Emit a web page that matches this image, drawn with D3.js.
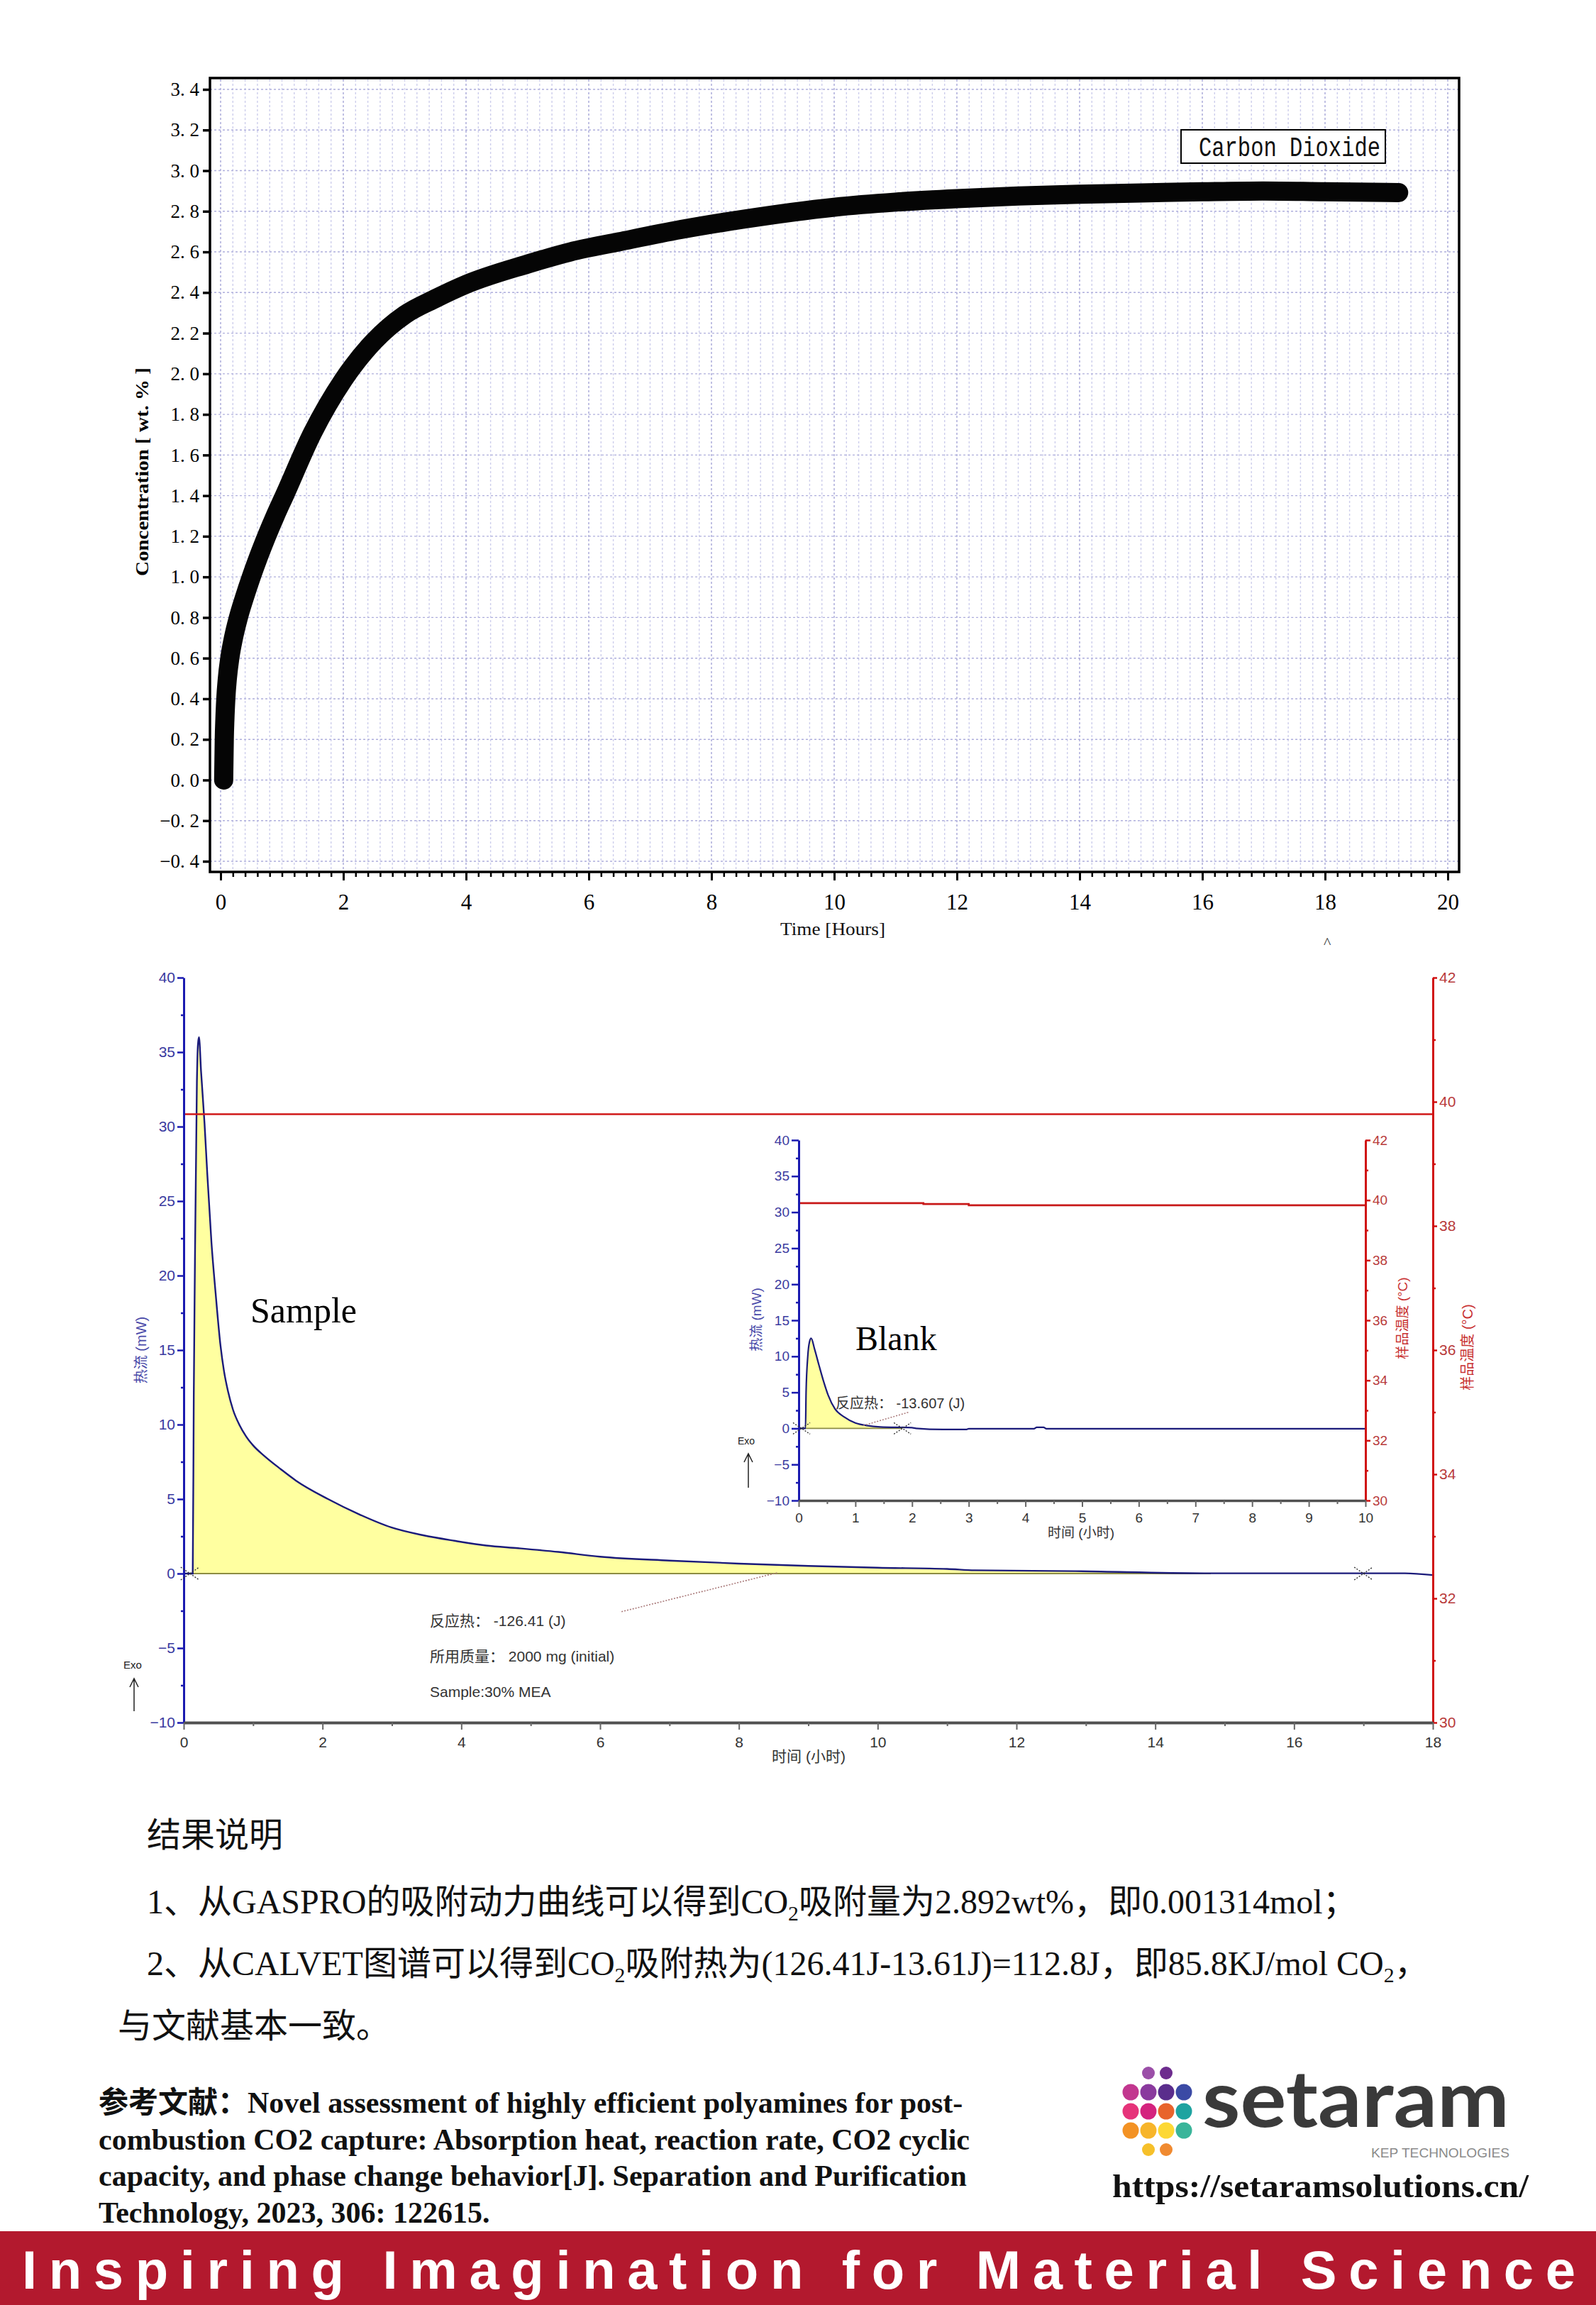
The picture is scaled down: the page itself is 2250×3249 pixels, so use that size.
<!DOCTYPE html>
<html>
<head>
<meta charset="utf-8">
<script src="https://cdn.jsdelivr.net/npm/d3@7/dist/d3.min.js"></script>
<style>
html,body{margin:0;padding:0;background:#fff;}
svg{display:block;}
</style>
</head>
<body>
<svg id="page" width="2250" height="3249" xmlns="http://www.w3.org/2000/svg"></svg>
<script>
// ================= DATA =================
// GASPRO CO2 uptake curve
const co2Time = [0.05,0.055,0.06,0.07,0.085,0.11,0.15,0.21,0.29,0.39,0.5,0.62,0.75,0.89,1.04,1.5,2.0,2.5,3.0,3.5,4.0,5.0,5.7,6.5,7.5,8.5,10,11,12,13,14,15,16,17,18,19.2];
const co2Conc = [0,0.1,0.2,0.3,0.4,0.5,0.6,0.7,0.8,0.9,1.0,1.1,1.2,1.3,1.4,1.71,1.97,2.16,2.29,2.37,2.44,2.54,2.6,2.65,2.71,2.76,2.82,2.845,2.862,2.875,2.884,2.89,2.896,2.9,2.896,2.892];
const co2YTicks = [-0.4,-0.2,0,0.2,0.4,0.6,0.8,1.0,1.2,1.4,1.6,1.8,2.0,2.2,2.4,2.6,2.8,3.0,3.2,3.4];
const co2XTicks = [0,2,4,6,8,10,12,14,16,18,20];
const co2Legend = "Carbon Dioxide";

// CALVET sample heat flow (mW) vs time (h)
const sampleTime = [0,0.13,0.145,0.16,0.19,0.205,0.22,0.25,0.3,0.34,0.4,0.46,0.53,0.58,0.64,0.71,0.8,0.9,1.0,1.16,1.4,1.62,2.08,2.53,2.99,3.45,3.9,4.36,4.82,5.4,6.0,7.0,8.0,9.0,10.0,11.0,11.4,12.85,14.7,17.6,18.0];
const sampleHeat = [0,0,12,20,33,35.5,36,33.7,30.2,26.8,22.2,18.8,15.3,13.6,12.2,11.0,10.0,9.2,8.6,7.9,7.0,6.23,5.0,3.97,3.1,2.57,2.2,1.88,1.7,1.45,1.13,0.87,0.67,0.51,0.39,0.31,0.22,0.16,0.02,0.02,-0.1];
const sampleTempTime = [0,18];
const sampleTemp = [39.8,39.8];
const sampleIntegration = [0.09,17.0];
const sampleLeader = [[8.55,0.05],[6.3,-2.57]];
const sampleNotes = ["反应热： -126.41 (J)","所用质量： 2000 mg (initial)","Sample:30% MEA"];

// CALVET blank (inset)
const blankTime = [0,0.12,0.13,0.16,0.19,0.22,0.28,0.36,0.44,0.52,0.64,0.8,1.0,1.2,1.44,2.0,2.07,2.55,2.95,3.0,4.15,4.2,4.32,4.37,10];
const blankHeat = [0,0,5,10,12,12.5,11,8.7,6.5,4.6,2.7,1.6,0.75,0.4,0.2,0.1,0,-0.15,-0.15,-0.05,-0.05,0.15,0.15,-0.05,-0.05];
const blankTempTime = [0,2.2,3.0,10];
const blankTemp = [39.9,39.87,39.83,39.83];
const blankIntegration = [0.05,1.83];
const blankLeader = [[1.14,0.4],[1.95,2.27]];
const blankNote = "反应热： -13.607 (J)";

const heatTicks = [-10,-5,0,5,10,15,20,25,30,35,40];
const heatMinor = [-7.5,-2.5,2.5,7.5,12.5,17.5,22.5,27.5,32.5,37.5];
const tempTicks = [30,32,34,36,38,40,42];
const tempMinor = [31,33,35,37,39,41];
const mainTimeTicks = [0,2,4,6,8,10,12,14,16,18];
const mainTimeMinor = [1,3,5,7,9,11,13,15,17];
const insetTimeTicks = [0,1,2,3,4,5,6,7,8,9,10];
const insetTimeMinor = [0.5,1.5,2.5,3.5,4.5,5.5,6.5,7.5,8.5,9.5];

const logoDots = [
  {c:1,r:0,col:'#9b4fa8'},{c:2,r:0,col:'#6d2c8e'},
  {c:0,r:1,col:'#c2378f'},{c:1,r:1,col:'#8a3a9e'},{c:2,r:1,col:'#5a2d8c'},{c:3,r:1,col:'#3b4aa5'},
  {c:0,r:2,col:'#e6337a'},{c:1,r:2,col:'#d4237e'},{c:2,r:2,col:'#e8642c'},{c:3,r:2,col:'#1ea3a0'},
  {c:0,r:3,col:'#f39224'},{c:1,r:3,col:'#f7b52a'},{c:2,r:3,col:'#fdd835'},{c:3,r:3,col:'#3ab59a'},
  {c:1,r:4,col:'#f6c02a'},{c:2,r:4,col:'#f08a30'}
];

// ================= DRAW =================
const svg = d3.select('#page');
const FS = "'Liberation Sans','Noto Sans CJK SC',sans-serif";
const FSerif = "'Liberation Serif','Noto Sans CJK SC',serif";
const FMono = "'Liberation Mono',monospace";

function vtext(x, y, str, size, color, family, weight, len) {
  const t = svg.append('text').attr('transform', `translate(${x},${y}) rotate(-90)`)
    .attr('text-anchor', 'middle').attr('font-size', size).attr('fill', color)
    .attr('font-family', family).attr('font-weight', weight || 'normal').text(str);
  if (len) t.attr('textLength', len).attr('lengthAdjust', 'spacingAndGlyphs');
  return t;
}
function styleAxis(g, o) {
  g.selectAll('.domain').attr('stroke', o.domain || 'none').attr('stroke-width', o.dw || 1);
  g.selectAll('.tick line').attr('stroke', o.tick).attr('stroke-width', o.tw || 2);
  g.selectAll('.tick text').attr('font-family', o.family).attr('font-size', o.size).attr('fill', o.text);
}
function drawX(cx, cy, hw, hh) {
  const g = svg.append('g').attr('stroke', '#333').attr('stroke-width', 1.4).attr('stroke-dasharray', '2,2');
  g.append('line').attr('x1', cx - hw).attr('y1', cy - hh).attr('x2', cx + hw).attr('y2', cy + hh);
  g.append('line').attr('x1', cx - hw).attr('y1', cy + hh).attr('x2', cx + hw).attr('y2', cy - hh);
}
function exoArrow(x, yTop, yBot) {
  svg.append('path').attr('d', `M${x},${yBot} L${x},${yTop} M${x-6},${yTop+12} L${x},${yTop} L${x+6},${yTop+12}`)
    .attr('fill', 'none').attr('stroke', '#222').attr('stroke-width', 1.5);
}

// ---------- Top chart ----------
const TF = {l:296, r:2057, t:110, b:1229};
const xT = d3.scaleLinear().domain([0,20]).range([311,2041]);
const yT = d3.scaleLinear().domain([-0.4,3.4]).range([1214,126]);
const gTop = svg.append('g');
const gridX = d3.range(0,101).map(i => +(i*0.2).toFixed(1));
gTop.append('g').selectAll('line').data(gridX).join('line')
  .attr('x1', d => xT(d)).attr('x2', d => xT(d)).attr('y1', TF.t + 2).attr('y2', TF.b - 2)
  .attr('stroke', (d,i) => i % 10 === 0 ? '#a6a6d8' : '#cdceec')
  .attr('stroke-width', 1.4).attr('stroke-dasharray', '3,3');
gTop.append('g').selectAll('line').data(co2YTicks).join('line')
  .attr('x1', TF.l).attr('x2', TF.r).attr('y1', d => yT(d)).attr('y2', d => yT(d))
  .attr('stroke', '#aeaedc').attr('stroke-width', 1.4).attr('stroke-dasharray', '3,3');

const fmtT = d => (d < 0 ? '\u2212' : '') + Math.abs(d).toFixed(1).replace('.', '. ');
const ayT = gTop.append('g').attr('transform', `translate(${TF.l},0)`)
  .call(d3.axisLeft(yT).tickValues(co2YTicks).tickSize(10).tickPadding(5).tickSizeOuter(0).tickFormat(fmtT));
styleAxis(ayT, {tick:'#000', tw:3.5, family:FSerif, size:27, text:'#000'});
const axT = gTop.append('g').attr('transform', `translate(0,${TF.b})`)
  .call(d3.axisBottom(xT).tickValues(co2XTicks).tickSize(12).tickPadding(19).tickSizeOuter(0).tickFormat(d3.format('d')));
styleAxis(axT, {tick:'#000', tw:3, family:FSerif, size:31, text:'#000'});
const axTm = gTop.append('g').attr('transform', `translate(0,${TF.b})`)
  .call(d3.axisBottom(xT).tickValues(gridX.filter((d,i) => i % 10 !== 0)).tickSize(7).tickSizeOuter(0).tickFormat(''));
styleAxis(axTm, {tick:'#000', tw:2.5, family:FSerif, size:10, text:'#000'});

gTop.append('rect').attr('x', TF.l).attr('y', TF.t).attr('width', TF.r - TF.l).attr('height', TF.b - TF.t)
  .attr('fill', 'none').attr('stroke', '#000').attr('stroke-width', 3.5);

const co2Pts = co2Time.map((t,i) => [t, co2Conc[i]]);
gTop.append('path').datum(co2Pts)
  .attr('d', d3.line().x(d => xT(d[0])).y(d => yT(d[1])).curve(d3.curveMonotoneX))
  .attr('fill', 'none').attr('stroke', '#050505').attr('stroke-width', 27)
  .attr('stroke-linecap', 'round').attr('stroke-linejoin', 'round');

gTop.append('rect').attr('x', 1665).attr('y', 183).attr('width', 288).attr('height', 47)
  .attr('fill', '#fff').attr('stroke', '#000').attr('stroke-width', 2);
gTop.append('text').attr('x', 1690).attr('y', 220).attr('font-family', FMono).attr('font-size', 38)
  .attr('textLength', 256).attr('lengthAdjust', 'spacingAndGlyphs').attr('fill', '#111').text(co2Legend);

vtext(209, 665, 'Concentration [ wt. % ]', 25, '#000', FSerif, 'bold', 294);
svg.append('text').attr('x', 1100).attr('y', 1318).attr('font-family', FSerif).attr('font-size', 26)
  .attr('textLength', 148).attr('lengthAdjust', 'spacingAndGlyphs').attr('fill', '#111').text('Time [Hours]');
svg.append('text').attr('x', 1866).attr('y', 1336).attr('font-family', FSerif).attr('font-size', 22).attr('fill', '#333').text('^');

// ---------- Main CALVET chart ----------
const xM = d3.scaleLinear().domain([0,18]).range([259,2020]);
const yM = d3.scaleLinear().domain([-10,40]).range([2428,1378]);
const tM = d3.scaleLinear().domain([30,42]).range([2428,1378]);

svg.append('clipPath').attr('id', 'clipM').append('rect')
  .attr('x', xM(sampleIntegration[0])).attr('y', 1300)
  .attr('width', xM(sampleIntegration[1]) - xM(sampleIntegration[0])).attr('height', 1200);
const samplePts = sampleTime.map((t,i) => [t, sampleHeat[i]]);
svg.append('path').datum(samplePts).attr('clip-path', 'url(#clipM)')
  .attr('d', d3.area().x(d => xM(d[0])).y0(yM(0)).y1(d => yM(Math.max(0, d[1]))).curve(d3.curveMonotoneX))
  .attr('fill', '#ffffa0');
svg.append('line').attr('x1', xM(sampleIntegration[0])).attr('x2', xM(14.8))
  .attr('y1', yM(0)).attr('y2', yM(0)).attr('stroke', '#8c8c44').attr('stroke-width', 2);
svg.append('path').datum(samplePts)
  .attr('d', d3.line().x(d => xM(d[0])).y(d => yM(d[1])).curve(d3.curveMonotoneX))
  .attr('fill', 'none').attr('stroke', '#1b1b7a').attr('stroke-width', 2.4);
svg.append('path').datum(sampleTempTime.map((t,i) => [t, sampleTemp[i]]))
  .attr('d', d3.line().x(d => xM(d[0])).y(d => tM(d[1])))
  .attr('fill', 'none').attr('stroke', '#d01818').attr('stroke-width', 2.6);

const ayM = svg.append('g').attr('transform', `translate(${xM(0)},0)`)
  .call(d3.axisLeft(yM).tickValues(heatTicks).tickSize(9).tickPadding(3).tickSizeOuter(0));
styleAxis(ayM, {domain:'#1a1ab0', dw:3, tick:'#1a1ab0', tw:2.5, family:FS, size:21, text:'#3a3aa0'});
const ayMm = svg.append('g').attr('transform', `translate(${xM(0)},0)`)
  .call(d3.axisLeft(yM).tickValues(heatMinor).tickSize(4).tickSizeOuter(0).tickFormat(''));
styleAxis(ayMm, {tick:'#1a1ab0', tw:2.5, family:FS, size:10, text:'#000'});
const arM = svg.append('g').attr('transform', `translate(${xM(18)},0)`)
  .call(d3.axisRight(tM).tickValues(tempTicks).tickSize(6).tickPadding(3).tickSizeOuter(0));
styleAxis(arM, {domain:'#d01010', dw:3, tick:'#d01010', tw:2.5, family:FS, size:21, text:'#b83a3a'});
const arMm = svg.append('g').attr('transform', `translate(${xM(18)},0)`)
  .call(d3.axisRight(tM).tickValues(tempMinor).tickSize(4).tickSizeOuter(0).tickFormat(''));
styleAxis(arMm, {tick:'#d01010', tw:2.5, family:FS, size:10, text:'#000'});
const axM = svg.append('g').attr('transform', `translate(0,${yM(-10)})`)
  .call(d3.axisBottom(xM).tickValues(mainTimeTicks).tickSize(10).tickPadding(10).tickSizeOuter(0));
styleAxis(axM, {domain:'#505050', dw:4, tick:'#666', tw:2, family:FS, size:21, text:'#333'});
const axMm = svg.append('g').attr('transform', `translate(0,${yM(-10)})`)
  .call(d3.axisBottom(xM).tickValues(mainTimeMinor).tickSize(5).tickSizeOuter(0).tickFormat(''));
styleAxis(axMm, {tick:'#666', tw:2, family:FS, size:10, text:'#000'});

drawX(xM(sampleIntegration[0]), yM(0), 13, 9);
drawX(xM(sampleIntegration[1]), yM(0), 13, 9);
svg.append('line').attr('x1', xM(sampleLeader[0][0])).attr('y1', yM(sampleLeader[0][1]))
  .attr('x2', xM(sampleLeader[1][0])).attr('y2', yM(sampleLeader[1][1]))
  .attr('stroke', '#a87878').attr('stroke-width', 1.6).attr('stroke-dasharray', '2,2');
sampleNotes.forEach((s, i) => {
  svg.append('text').attr('x', 606).attr('y', 2292 + i * 50).attr('font-family', FS)
    .attr('font-size', 21).attr('fill', '#333').text(s);
});
svg.append('text').attr('x', 353).attr('y', 1864).attr('font-family', FSerif).attr('font-size', 50)
  .attr('fill', '#000').text('Sample');
vtext(206, 1903, '热流 (mW)', 20, '#4848a8', FS);
vtext(2076, 1899, '样品温度 (°C)', 20, '#c83030', FS);
svg.append('text').attr('x', 1140).attr('y', 2483).attr('text-anchor', 'middle').attr('font-family', FS)
  .attr('font-size', 21).attr('fill', '#333').text('时间 (小时)');
svg.append('text').attr('x', 174).attr('y', 2352).attr('font-family', FS).attr('font-size', 15).attr('fill', '#222').text('Exo');
exoArrow(189, 2366, 2412);

// ---------- Inset (Blank) ----------
const xI = d3.scaleLinear().domain([0,10]).range([1126,1925]);
const yI = d3.scaleLinear().domain([-10,40]).range([2115,1607]);
const tI = d3.scaleLinear().domain([30,42]).range([2115,1607]);

svg.append('clipPath').attr('id', 'clipI').append('rect')
  .attr('x', xI(blankIntegration[0])).attr('y', 1600)
  .attr('width', xI(blankIntegration[1]) - xI(blankIntegration[0])).attr('height', 520);
const blankPts = blankTime.map((t,i) => [t, blankHeat[i]]);
svg.append('path').datum(blankPts).attr('clip-path', 'url(#clipI)')
  .attr('d', d3.area().x(d => xI(d[0])).y0(yI(0)).y1(d => yI(Math.max(0, d[1]))).curve(d3.curveMonotoneX))
  .attr('fill', '#ffffa0');
svg.append('line').attr('x1', xI(blankIntegration[0])).attr('x2', xI(blankIntegration[1]))
  .attr('y1', yI(0)).attr('y2', yI(0)).attr('stroke', '#8c8c44').attr('stroke-width', 1.8);
svg.append('path').datum(blankPts)
  .attr('d', d3.line().x(d => xI(d[0])).y(d => yI(d[1])).curve(d3.curveMonotoneX))
  .attr('fill', 'none').attr('stroke', '#1b1b7a').attr('stroke-width', 2.2);
svg.append('path').datum(blankTempTime.map((t,i) => [t, blankTemp[i]]))
  .attr('d', d3.line().x(d => xI(d[0])).y(d => tI(d[1])).curve(d3.curveStepAfter))
  .attr('fill', 'none').attr('stroke', '#c81818').attr('stroke-width', 2.6);

const ayI = svg.append('g').attr('transform', `translate(${xI(0)},0)`)
  .call(d3.axisLeft(yI).tickValues(heatTicks).tickSize(10).tickPadding(3).tickSizeOuter(0));
styleAxis(ayI, {domain:'#1a1ab0', dw:3, tick:'#1a1ab0', tw:2.5, family:FS, size:19, text:'#3a3aa0'});
const ayIm = svg.append('g').attr('transform', `translate(${xI(0)},0)`)
  .call(d3.axisLeft(yI).tickValues(heatMinor).tickSize(4).tickSizeOuter(0).tickFormat(''));
styleAxis(ayIm, {tick:'#1a1ab0', tw:2.5, family:FS, size:10, text:'#000'});
const arI = svg.append('g').attr('transform', `translate(${xI(10)},0)`)
  .call(d3.axisRight(tI).tickValues(tempTicks).tickSize(7).tickPadding(3).tickSizeOuter(0));
styleAxis(arI, {domain:'#d01010', dw:3, tick:'#d01010', tw:2.5, family:FS, size:19, text:'#b83a3a'});
const arIm = svg.append('g').attr('transform', `translate(${xI(10)},0)`)
  .call(d3.axisRight(tI).tickValues(tempMinor).tickSize(4).tickSizeOuter(0).tickFormat(''));
styleAxis(arIm, {tick:'#d01010', tw:2.5, family:FS, size:10, text:'#000'});
const axI = svg.append('g').attr('transform', `translate(0,${yI(-10)})`)
  .call(d3.axisBottom(xI).tickValues(insetTimeTicks).tickSize(9).tickPadding(9).tickSizeOuter(0));
styleAxis(axI, {domain:'#505050', dw:3.5, tick:'#666', tw:2, family:FS, size:19, text:'#333'});
const axIm = svg.append('g').attr('transform', `translate(0,${yI(-10)})`)
  .call(d3.axisBottom(xI).tickValues(insetTimeMinor).tickSize(5).tickSizeOuter(0).tickFormat(''));
styleAxis(axIm, {tick:'#666', tw:2, family:FS, size:10, text:'#000'});

drawX(xI(blankIntegration[0]), yI(0), 12, 8);
drawX(xI(blankIntegration[1]), yI(0), 12, 8);
svg.append('line').attr('x1', xI(blankLeader[0][0])).attr('y1', yI(blankLeader[0][1]))
  .attr('x2', xI(blankLeader[1][0])).attr('y2', yI(blankLeader[1][1]))
  .attr('stroke', '#a87878').attr('stroke-width', 1.5).attr('stroke-dasharray', '2,2');
svg.append('text').attr('x', 1178).attr('y', 1985).attr('font-family', FS).attr('font-size', 20)
  .attr('fill', '#333').text(blankNote);
svg.append('text').attr('x', 1206).attr('y', 1903).attr('font-family', FSerif).attr('font-size', 48)
  .attr('fill', '#000').text('Blank');
vtext(1073, 1860, '热流 (mW)', 19, '#4848a8', FS);
vtext(1984, 1858, '样品温度 (°C)', 19, '#c83030', FS);
svg.append('text').attr('x', 1524).attr('y', 2167).attr('text-anchor', 'middle').attr('font-family', FS)
  .attr('font-size', 19).attr('fill', '#333').text('时间 (小时)');
svg.append('text').attr('x', 1040).attr('y', 2036).attr('font-family', FS).attr('font-size', 14).attr('fill', '#222').text('Exo');
exoArrow(1055, 2049, 2097);

// ---------- Result text ----------
function richLine(x, y, parts, size, weight) {
  const t = svg.append('text').attr('x', x).attr('y', y).attr('font-family', FSerif)
    .attr('font-size', size).attr('font-weight', weight || 'normal').attr('fill', '#111');
  let shifted = false;
  parts.forEach(p => {
    const s = t.append('tspan').text(p.t);
    if (p.sub) { s.attr('font-size', size * 0.62).attr('dy', 10); shifted = true; }
    else if (shifted) { s.attr('dy', -10); shifted = false; }
  });
  return t;
}
richLine(207, 2603, [{t:'结果说明'}], 48);
richLine(207, 2697, [{t:'1、从GASPRO的吸附动力曲线可以得到CO'},{t:'2',sub:true},{t:'吸附量为2.892wt%，即0.001314mol；'}], 48);
richLine(207, 2784, [{t:'2、从CALVET图谱可以得到CO'},{t:'2',sub:true},{t:'吸附热为(126.41J-13.61J)=112.8J，即85.8KJ/mol CO'},{t:'2',sub:true},{t:'，'}], 48);
richLine(166, 2872, [{t:'与文献基本一致。'}], 48);

const refLines = [
  '参考文献：Novel assessment of highly efficient polyamines for post-',
  'combustion CO2 capture: Absorption heat, reaction rate, CO2 cyclic',
  'capacity, and phase change behavior[J]. Separation and Purification',
  'Technology, 2023, 306: 122615.'
];
refLines.forEach((s, i) => richLine(139, 2978 + i * 51.5, [{t:s}], 42, 'bold'));

// ---------- Logo ----------
svg.append('g').selectAll('circle').data(logoDots).join('circle')
  .attr('cx', d => 1594 + d.c * 25).attr('cy', d => 2922 + d.r * 27)
  .attr('r', d => (d.r === 0 || d.r === 4) ? 9 : 11.5).attr('fill', d => d.col);
svg.append('text').attr('x', 1695).attr('y', 2998).attr('font-family', "'Lato','Noto Sans',sans-serif")
  .attr('font-weight', 'bold').attr('font-size', 112).attr('textLength', 433).attr('lengthAdjust', 'spacingAndGlyphs')
  .attr('fill', '#3a3a3a').text('setaram');
svg.append('text').attr('x', 1933).attr('y', 3041).attr('font-family', FS).attr('font-size', 19)
  .attr('textLength', 195).attr('lengthAdjust', 'spacingAndGlyphs').attr('fill', '#8a8a8a').text('KEP TECHNOLOGIES');
svg.append('text').attr('x', 1568).attr('y', 3097).attr('font-family', FSerif).attr('font-weight', 'bold')
  .attr('font-size', 47).attr('textLength', 587).attr('lengthAdjust', 'spacingAndGlyphs')
  .attr('fill', '#111').text('https://setaramsolutions.cn/');

// ---------- Banner ----------
svg.append('rect').attr('x', 0).attr('y', 3145).attr('width', 2250).attr('height', 104).attr('fill', '#b3192e');
svg.append('text').attr('x', 31).attr('y', 3226).attr('font-family', FS).attr('font-weight', 'bold')
  .attr('font-size', 76).attr('textLength', 2190).attr('lengthAdjust', 'spacing')
  .attr('fill', '#fff').text('Inspiring Imagination for Material Science');
</script>
</body>
</html>
